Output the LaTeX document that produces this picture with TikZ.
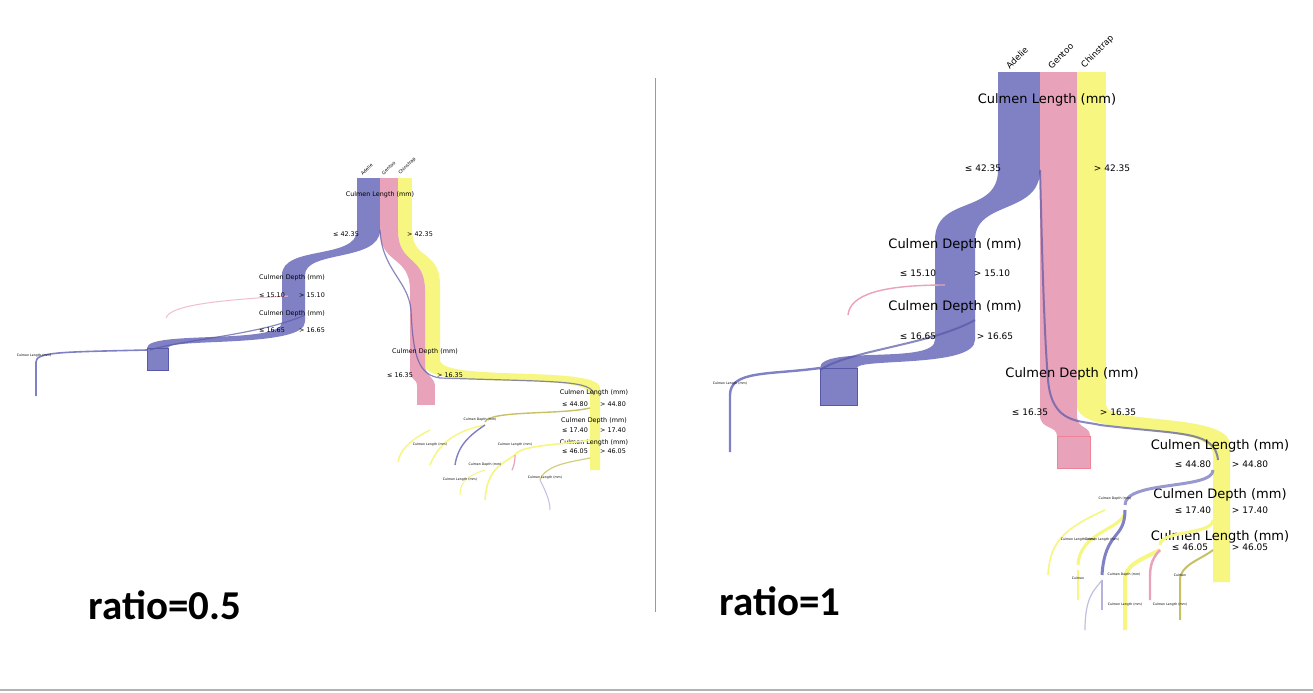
\documentclass[tikz,border=0pt]{standalone}
\usepackage{fontspec}
\setmainfont{DejaVu Sans}
\newfontfamily\ratiofont{Carlito}
\definecolor{adel}{HTML}{8080C4}
\definecolor{gent}{HTML}{E8A2BA}
\definecolor{chin}{HTML}{F6F680}
\definecolor{adeldark}{HTML}{5858A8}
\begin{document}
\begin{tikzpicture}[x=0.5pt,y=-0.5pt,
  big/.style={font=\fontsize{6.5}{7}\selectfont,inner sep=0},
  mid/.style={font=\fontsize{4.5}{5}\selectfont,inner sep=0},
  sm/.style={font=\fontsize{3.2}{3.5}\selectfont,inner sep=0},
  tiny/.style={font=\fontsize{1.6}{2}\selectfont,inner sep=0},
  colr/.style={font=\fontsize{4.3}{5}\selectfont,inner sep=0,rotate=45,anchor=south west},
  coll/.style={font=\fontsize{2.3}{3}\selectfont,inner sep=0,rotate=45,anchor=south west},
  ratio/.style={font=\ratiofont\bfseries\fontsize{20.5}{22}\selectfont,inner sep=0},
  thin/.style={line width=0.5pt,opacity=0.8}]
\useasboundingbox[fill=white] (0,0) rectangle (1313,692);
\draw[gray!60,line width=1.2pt] (0,690) -- (1313,690);
\coordinate (d1) at (655,78); \coordinate (d2) at (655,612);
\draw[gray!80,line width=0.5pt] (d1) -- (d2);
\node[ratio] (r1) at (165,605) {ratio=0.5};
\node[ratio] (r2) at (780,601) {ratio=1};

% ================= RIGHT =================
\fill[chin] (1077,72) rectangle (1106,405);
\fill[chin] (1077,405) .. controls (1077,440) and (1213,420) .. (1213,455) -- (1213,582) -- (1230,582) -- (1230,445) .. controls (1230,412) and (1106,425) .. (1106,405) -- cycle;
\fill[gent] (1040,72) rectangle (1077,415);
\fill[gent] (1040,415) .. controls (1040,430) and (1057,425) .. (1057,436) -- (1090,436) .. controls (1090,425) and (1077,430) .. (1077,415) -- cycle;
\fill[gent] (1057,436) rectangle (1090,468);
\draw[gent!80!red,line width=0.4pt] (1057,436) rectangle (1090,468);
\fill[adel] (998,72) rectangle (1040,170);
\fill[adel] (998,170) .. controls (998,215) and (935,195) .. (935,240) -- (935,340) .. controls (935,365) and (820,345) .. (820,368) -- (857,368) .. controls (857,358) and (975,368) .. (975,340) -- (975,240) .. controls (975,200) and (1040,215) .. (1040,170) -- cycle;
\fill[adel] (820,368) rectangle (857,405);
\draw[adeldark,line width=0.5pt] (820,368) rectangle (857,405);
\draw[adeldark,line width=1pt,opacity=0.7] (1040,170) .. controls (1042,250) and (1044,330) .. (1048,380) .. controls (1052,425) and (1080,420) .. (1100,425) .. controls (1180,435) and (1215,430) .. (1218,460);
\draw[adeldark,line width=1pt,opacity=0.7] (975,320) .. controls (930,345) and (850,350) .. (820,370);
\draw[adel,line width=1.2pt] (820,368) .. controls (770,375) and (730,370) .. (730,395) -- (730,452);
\draw[gent,line width=0.7pt] (945,285) .. controls (880,285) and (850,295) .. (848,315);
\node[tiny] (tcl) at (730,384) {Culmen Length (mm)};
\node[colr] (la) at (1010,70) {Adelie};
\node[colr] (lg) at (1052,70) {Gentoo};
\node[colr] (lc) at (1086,70) {Chinstrap};
\node[big] (n1) at (1047,100) {Culmen Length (mm)};
\node[mid] (n1a) at (983,168) {≤ 42.35};
\node[mid] (n1b) at (1112,168) {> 42.35};
\node[big] (n2) at (955,245) {Culmen Depth (mm)};
\node[mid] (n2a) at (918,273) {≤ 15.10};
\node[mid] (n2b) at (992,273) {> 15.10};
\node[big] (n3) at (955,307) {Culmen Depth (mm)};
\node[mid] (n3a) at (918,336) {≤ 16.65};
\node[mid] (n3b) at (995,336) {> 16.65};
\node[big] (n4) at (1072,374) {Culmen Depth (mm)};
\node[mid] (n4a) at (1030,412) {≤ 16.35};
\node[mid] (n4b) at (1118,412) {> 16.35};
\node[big] (n5) at (1220,446) {Culmen Length (mm)};
\node[mid] (n5a) at (1193,464) {≤ 44.80};
\node[mid] (n5b) at (1250,464) {> 44.80};
\node[big] (n6) at (1220,495) {Culmen Depth (mm)};
\node[mid] (n6a) at (1193,510) {≤ 17.40};
\node[mid] (n6b) at (1250,510) {> 17.40};
\node[big] (n7) at (1220,537) {Culmen Length (mm)};
\node[mid] (n7a) at (1190,547) {≤ 46.05};
\node[mid] (n7b) at (1250,547) {> 46.05};
\draw[adel,line width=1.5pt,opacity=0.8] (1213,470) .. controls (1213,490) and (1125,480) .. (1125,505);
\draw[chin,line width=1.5pt] (1125,510) .. controls (1125,530) and (1080,530) .. (1078,565);
\draw[adel,line width=1.5pt] (1125,510) .. controls (1125,540) and (1105,530) .. (1102,575);
\draw[chin,line width=1.5pt] (1213,520) .. controls (1213,535) and (1160,530) .. (1160,545);
\draw[chin,line width=2pt] (1160,550) .. controls (1140,560) and (1125,565) .. (1125,580) -- (1125,630);
\draw[gent,line width=1.2pt] (1160,550) .. controls (1150,560) and (1150,570) .. (1150,580) -- (1150,600);
\draw[olive!50,line width=1pt] (1213,550) .. controls (1200,560) and (1180,565) .. (1180,580) -- (1180,620);
\draw[adel!60,line width=0.8pt] (1102,580) -- (1102,610);
\draw[chin,line width=0.8pt] (1078,570) -- (1078,600);
\draw[chin,line width=0.8pt] (1105,510) .. controls (1060,530) and (1050,545) .. (1048,575);
\draw[adel!50,line width=0.6pt] (1102,580) .. controls (1095,590) and (1085,595) .. (1085,630);
\node[tiny] (t1) at (1115,499) {Culmen Depth (mm)};
\node[tiny] (t2) at (1078,540) {Culmen Length (mm)};
\node[tiny] (t3) at (1102,540) {Culmen Length (mm)};
\node[tiny] (t4) at (1124,575) {Culmen Depth (mm)};
\node[tiny] (t5) at (1125,605) {Culmen Length (mm)};
\node[tiny] (t6) at (1170,605) {Culmen Length (mm)};
\node[tiny] (t7) at (1078,578) {Culmen};
\node[tiny] (t8) at (1180,575) {Culmen};

% ================= LEFT =================
\fill[chin] (398,178) rectangle (412,230);
\fill[chin] (398,230) .. controls (398,265) and (425,255) .. (425,290) -- (425,365) .. controls (425,392) and (590,370) .. (590,395) -- (590,470) -- (600,470) -- (600,388) .. controls (600,365) and (440,382) .. (440,360) -- (440,285) .. controls (440,250) and (412,260) .. (412,230) -- cycle;
\fill[gent] (380,178) rectangle (398,230);
\fill[gent] (380,230) .. controls (380,265) and (410,255) .. (410,290) -- (410,372) .. controls (410,380) and (417,378) .. (417,386) -- (435,386) .. controls (435,378) and (425,375) .. (425,365) -- (425,290) .. controls (425,255) and (398,265) .. (398,230) -- cycle;
\fill[gent] (417,386) rectangle (435,405);
\fill[adel] (357,178) rectangle (380,230);
\fill[adel] (357,230) .. controls (357,260) and (282,245) .. (282,275) -- (282,322) .. controls (282,345) and (147,330) .. (147,348) -- (168,348) .. controls (168,338) and (305,348) .. (305,322) -- (305,275) .. controls (305,250) and (380,262) .. (380,230) -- cycle;
\fill[adel] (147,348) rectangle (168,370);
\draw[adeldark,line width=0.4pt] (147,348) rectangle (168,370);
\draw[adeldark,line width=0.6pt,opacity=0.7] (380,230) .. controls (382,270) and (408,280) .. (411,310) .. controls (413,360) and (420,375) .. (440,378) .. controls (560,382) and (592,380) .. (594,395);
\draw[adeldark,line width=0.6pt,opacity=0.7] (305,315) .. controls (260,335) and (180,340) .. (150,350);
\draw[adel,line width=0.8pt] (147,350) .. controls (60,352) and (36,352) .. (36,362) -- (36,396);
\draw[gent!70,line width=0.5pt] (288,296) .. controls (220,300) and (170,305) .. (166,318);
\node[tiny] (ltc) at (34,356) {Culmen Length (mm)};
\node[coll] (lla) at (363,176) {Adelie};
\node[coll] (llg) at (384,176) {Gentoo};
\node[coll] (llc) at (401,176) {Chinstrap};
\node[sm] (m1) at (380,195) {Culmen Length (mm)};
\node[sm] (m1a) at (346,234) {≤ 42.35};
\node[sm] (m1b) at (420,234) {> 42.35};
\node[sm] (m2) at (292,278) {Culmen Depth (mm)};
\node[sm] (m2a) at (272,295) {≤ 15.10};
\node[sm] (m2b) at (312,295) {> 15.10};
\node[sm] (m3) at (292,314) {Culmen Depth (mm)};
\node[sm] (m3a) at (272,330) {≤ 16.65};
\node[sm] (m3b) at (312,330) {> 16.65};
\node[sm] (m4) at (425,352) {Culmen Depth (mm)};
\node[sm] (m4a) at (400,375) {≤ 16.35};
\node[sm] (m4b) at (450,375) {> 16.35};
\node[sm] (m5) at (594,393) {Culmen Length (mm)};
\node[sm] (m5a) at (575,404) {≤ 44.80};
\node[sm] (m5b) at (613,404) {> 44.80};
\node[sm] (m6) at (594,421) {Culmen Depth (mm)};
\node[sm] (m6a) at (575,430) {≤ 17.40};
\node[sm] (m6b) at (613,430) {> 17.40};
\node[sm] (m7) at (594,443) {Culmen Length (mm)};
\node[sm] (m7a) at (575,451) {≤ 46.05};
\node[sm] (m7b) at (613,451) {> 46.05};
\draw[olive!50,line width=0.7pt] (590,408) .. controls (560,415) and (490,410) .. (485,422);
\draw[chin,line width=0.7pt] (485,425) .. controls (460,430) and (440,440) .. (430,465);
\draw[adel,line width=0.7pt] (485,425) .. controls (470,435) and (458,445) .. (455,465);
\draw[chin,line width=0.7pt] (430,430) .. controls (410,440) and (400,450) .. (398,462);
\draw[chin,line width=0.8pt] (590,440) .. controls (560,445) and (520,445) .. (515,455);
\draw[chin,line width=0.8pt] (515,455) .. controls (500,465) and (487,470) .. (485,500);
\draw[gent,line width=0.6pt] (515,455) .. controls (515,465) and (512,470) .. (512,470);
\draw[olive!40,line width=0.6pt] (590,458) .. controls (570,462) and (545,465) .. (540,480);
\draw[adel!50,line width=0.5pt] (540,480) .. controls (545,490) and (550,500) .. (550,510);
\draw[chin,line width=0.5pt] (485,470) .. controls (470,475) and (460,480) .. (460,495);
\node[tiny] (lt1) at (480,420) {Culmen Depth (mm)};
\node[tiny] (lt2) at (430,445) {Culmen Length (mm)};
\node[tiny] (lt3) at (515,445) {Culmen Length (mm)};
\node[tiny] (lt4) at (485,465) {Culmen Depth (mm)};
\node[tiny] (lt5) at (545,478) {Culmen Length (mm)};
\node[tiny] (lt6) at (460,480) {Culmen Length (mm)};
\end{tikzpicture}
\end{document}
